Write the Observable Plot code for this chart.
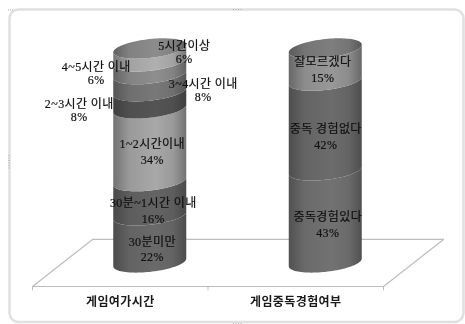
<!DOCTYPE html>
<html lang="ko">
<head>
<meta charset="utf-8">
<title>게임여가시간 · 게임중독경험여부</title>
<script src="https://cdn.jsdelivr.net/npm/d3@7"></script>
<script src="https://cdn.jsdelivr.net/npm/@observablehq/plot@0.6"></script>
<style>
  html, body { margin: 0; background: #fff; }
  svg { display: block; filter: grayscale(1); }
</style>
</head>
<body>
<div id="chart"></div>
<script>
// Share of respondents per answer, bottom to top of each column
const categories = ["게임여가시간", "게임중독경험여부"];

const leisureLabels = ["30분미만", "30분~1시간 이내", "1~2시간이내", "2~3시간 이내", "3~4시간 이내", "4~5시간 이내", "5시간이상"];
const leisureValues = [22, 16, 34, 8, 8, 6, 6];
const leisureShades = ["#6a6a6a", "#646464", "#a8a8a8", "#545454", "#787878", "#8e8e8e", "#b0b0b0"];
const leisureLabelDx = [2, 3, 2, -71, 53, -54, 34];
const leisureLabelDy = [9, 11, 6, 10, 7, 5, -3];
const leisureOutside = [false, false, false, true, true, true, true];

const addictionLabels = ["중독경험있다", "중독 경험없다", "잘모르겠다"];
const addictionValues = [43, 42, 15];
const addictionShades = ["#727272", "#6c6c6c", "#989898"];
const addictionLabelDx = [2, 0, -3];
const addictionLabelDy = [7, 10, 3.5];
const addictionOutside = [false, false, false];

const capShades = ["#8c8c8c", "#7e7e7e"];

// Oblique projection of the chart's floor: depth 0 is the front edge, depth 1 the back edge
const depthX = 0.342;   // in category units
const depthY = 22;      // in percentage points
const cylinderDepth = 0.5;
const radius = 0.208;   // horizontal radius, category units
const arcDrop = 4.4;    // vertical radius, percentage points
const arcTilt = 1.8;    // right side of each ellipse sits higher

const pxPerX = 175.5;
const pxPerY = 2.14;

const angles = d3.range(0, 49).map(i => Math.PI + i * Math.PI / 48);
const centerOf = slot => slot + 0.5 + cylinderDepth * depthX;
const baseLevel = cylinderDepth * depthY;
const arcX = (slot, t) => centerOf(slot) + radius * Math.cos(t);
const frontArc = (v, t) => baseLevel + v + arcTilt * Math.cos(t) + arcDrop * Math.sin(t);
const backArc = (v, t) => baseLevel + v + arcTilt * Math.cos(t) - arcDrop * Math.sin(t);

function stack(slot, values, labels, shades, dxs, dys, outside) {
  let sum = 0;
  return values.map((value, i) => {
    const row = {slot, value, label: `${labels[i]}\n${value}%`, from: sum, to: sum + value,
      shade: shades[i], dx: dxs[i], dy: dys[i], outside: outside[i], id: `shade-${slot}-${i}`};
    sum += value;
    return row;
  });
}

const segments = [
  ...stack(0, leisureValues, leisureLabels, leisureShades, leisureLabelDx, leisureLabelDy, leisureOutside),
  ...stack(1, addictionValues, addictionLabels, addictionShades, addictionLabelDx, addictionLabelDy, addictionOutside)
];
const caps = capShades.map((shade, slot) => ({slot, shade, id: `cap-${slot}`}));

// Horizontal shading that gives each segment its rounded look
function gradients() {
  const defs = d3.create("svg:defs");
  for (const {id, shade} of [...segments, ...caps]) {
    const g = defs.append("linearGradient").attr("id", id);
    const edge = d3.interpolateRgb(shade, "#202020")(0.4);
    const soft = d3.interpolateRgb(shade, "#202020")(0.1);
    [[0, edge], [0.22, soft], [0.58, shade], [0.82, soft], [1, edge]].forEach(([o, c]) =>
      g.append("stop").attr("offset", o).attr("stop-color", c));
  }
  return defs.node();
}

const segmentMarks = segments.map(s => Plot.areaY(angles, {
  x: t => arcX(s.slot, t),
  y1: t => frontArc(s.from, t),
  y2: t => frontArc(s.to, t),
  fill: `url(#${s.id})`
}));

const capMarks = caps.map(c => Plot.areaY(angles, {
  x: t => arcX(c.slot, t),
  y1: t => frontArc(100, t),
  y2: t => backArc(100, t),
  fill: `url(#${c.id})`
}));

const labelMark = (rows, lineHeight) => Plot.text(rows, {
  x: d => centerOf(d.slot) + d.dx / pxPerX,
  y: d => baseLevel + (d.from + d.to) / 2 - d.dy / pxPerY,
  text: "label",
  fontSize: 12,
  lineHeight,
  fill: "#111",
  stroke: "#111",
  strokeWidth: 0.2
});

// Floor outline and tick marks
const floorEdges = [
  [[0, 0], [2, 0]],
  [[depthX, depthY], [2 + depthX, depthY]],
  [[0, 0], [depthX, depthY]],
  [[2, 0], [2 + depthX, depthY]]
];

// Selection handles on the chart's outer frame sit at fixed pixels
const pxX = p => (p - 32) / pxPerX;
const pxY = p => (286 - p) / pxPerY;

const chart = Plot.plot({
  width: 465,
  height: 324,
  margin: 0,
  style: {background: "#fff"},
  x: {axis: null, domain: [0, 2], range: [32, 383]},
  y: {axis: null, domain: [0, 286 / pxPerY], range: [286, 0]},
  marks: [
    gradients,
    Plot.frame({stroke: "#e0e0e0", strokeWidth: 2.5, rx: 9, insetLeft: 9, insetTop: 9, insetRight: 2, insetBottom: 2.5}),
    Plot.ruleY([pxY(9)], {x1: pxX(233), x2: pxX(243), stroke: "#a8a8a8", strokeDasharray: "1 1.5"}),
    Plot.ruleY([pxY(323)], {x1: pxX(233), x2: pxX(243), stroke: "#b4b4b4", strokeDasharray: "1 1.5"}),
    Plot.ruleX([pxX(8.5)], {y1: pxY(155), y2: pxY(170), stroke: "#a8a8a8", strokeDasharray: "1 1.5"}),
    Plot.ruleY([pxY(9.5)], {x1: pxX(8), x2: pxX(13), stroke: "#a8a8a8", strokeDasharray: "1 1"}),
    ...floorEdges.map(edge => Plot.line(edge, {x: "0", y: "1", stroke: "#bdbdbd", strokeWidth: 1.2})),
    Plot.ruleX([0, 1, 2], {y1: 0, y2: -2, stroke: "#bdbdbd"}),
    ...segmentMarks,
    ...capMarks,
    labelMark(segments.filter(d => d.outside), 1.1),
    labelMark(segments.filter(d => !d.outside), 1.33),
    Plot.text(categories, {
      x: (d, i) => i + 0.5,
      y: 0,
      dy: 16,
      text: d => d,
      fontWeight: "bold",
      fontSize: 12,
      fill: "#1a1a1a"
    })
  ]
});

d3.select(chart).style("font-family", '"Liberation Serif", "Noto Sans CJK KR", serif').style("letter-spacing", "0.4px");
document.getElementById("chart").append(chart);
</script>
</body>
</html>
